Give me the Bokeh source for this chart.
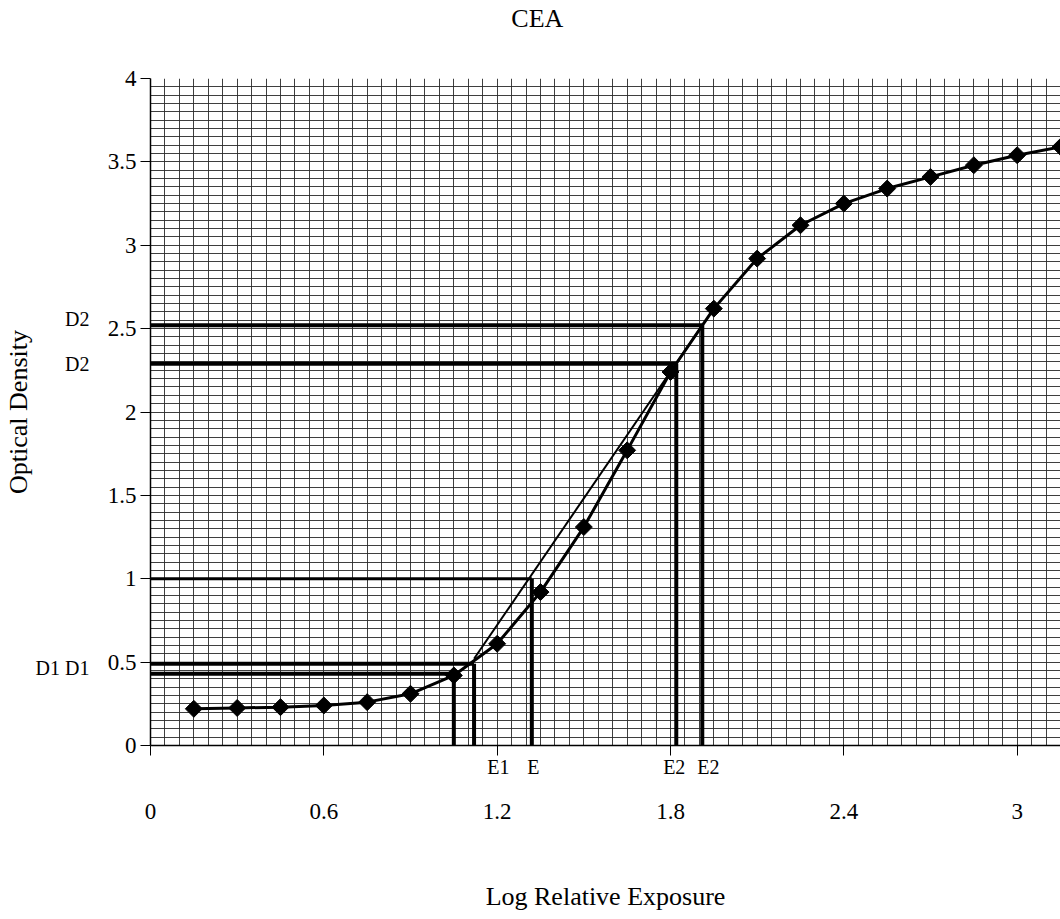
from bokeh.plotting import figure
from bokeh.models import FixedTicker, SingleIntervalTicker, Range1d, LinearAxis, Grid
from bokeh.embed import file_html
from bokeh.resources import INLINE

# ---- data ----
log_exposure = [0.15, 0.30, 0.45, 0.60, 0.75, 0.90, 1.05, 1.20, 1.35, 1.50, 1.65,
                1.80, 1.95, 2.10, 2.25, 2.40, 2.55, 2.70, 2.85, 3.00, 3.15]
density = [0.22, 0.225, 0.23, 0.24, 0.26, 0.31, 0.42, 0.61, 0.92, 1.31, 1.77,
           2.24, 2.62, 2.92, 3.12, 3.25, 3.34, 3.41, 3.48, 3.54, 3.59]

x_ticks = [0, 0.6, 1.2, 1.8, 2.4, 3.0]
x_tick_labels = ["0", "0.6", "1.2", "1.8", "2.4", "3"]
y_ticks = [0, 0.5, 1.0, 1.5, 2.0, 2.5, 3.0, 3.5, 4.0]
y_tick_labels = ["0", "0.5", "1", "1.5", "2", "2.5", "3", "3.5", "4"]

# construction guides: density levels and the exposures where they end
guide_density = [0.43, 0.49, 1.00, 2.29, 2.52]
guide_exposure = [1.05, 1.12, 1.32, 1.82, 1.91]
guide_widths = [4, 4, 3, 4, 4]
tangent_exposure = [1.12, 1.91]
tangent_density = [0.52, 2.52]

e_labels = ["E1", "E", "E2", "E2"]
e_label_x = [1.204, 1.325, 1.813, 1.931]
d_labels = ["D2", "D2", "D1 D1"]
d_label_y = [2.555, 2.285, 0.462]

title_text = "CEA"
title_x = 1.339

FONT = "Liberation Serif"

p = figure(frame_width=910, frame_height=667,
           x_range=Range1d(0, 3.15), y_range=Range1d(0, 4),
           x_axis_location=None, y_axis_location=None,
           output_backend="svg", toolbar_location=None,
           min_border_left=149, min_border_right=0,
           min_border_top=78, min_border_bottom=165)
p.outline_line_color = None
p.background_fill_color = "white"
p.border_fill_color = "white"

# grids every 0.05
for dim in (0, 1):
    p.add_layout(Grid(dimension=dim,
                      ticker=SingleIntervalTicker(interval=0.05, num_minor_ticks=0),
                      grid_line_color="#2a2a2a", grid_line_width=1, grid_line_alpha=0.9))


def style(ax, size):
    ax.major_label_text_font = FONT
    ax.major_label_text_font_size = size
    ax.major_label_text_color = "black"
    ax.axis_label_text_font = FONT
    ax.axis_label_text_font_size = "26px"
    ax.axis_label_text_font_style = "normal"
    ax.axis_label_text_color = "black"


# title as an axis label row above the frame
title_axis = LinearAxis(ticker=FixedTicker(ticks=[title_x]),
                        major_label_overrides={title_x: title_text},
                        axis_line_color=None, major_tick_line_color=None,
                        minor_tick_line_color=None, major_tick_out=0,
                        major_label_standoff=46)
style(title_axis, "26px")
p.add_layout(title_axis, "above")

# x axis: line, ticks at 0.6 steps (as minor ticks) and the E labels
e_axis = LinearAxis(ticker=FixedTicker(ticks=e_label_x, minor_ticks=x_ticks),
                    major_label_overrides=dict(zip(e_label_x, e_labels)),
                    axis_line_color="black", axis_line_width=1.5,
                    major_tick_line_color=None, major_tick_out=0, major_tick_in=0,
                    minor_tick_line_color="black", minor_tick_out=10, minor_tick_in=0,
                    major_label_standoff=0)
style(e_axis, "20px")
p.add_layout(e_axis, "below")

x_axis = LinearAxis(ticker=FixedTicker(ticks=x_ticks),
                    major_label_overrides=dict(zip(x_ticks, x_tick_labels)),
                    axis_line_color=None, major_tick_line_color=None,
                    minor_tick_line_color=None, major_tick_out=0, major_tick_in=0,
                    major_label_standoff=23,
                    axis_label="Log Relative Exposure", axis_label_standoff=60)
style(x_axis, "23px")
p.add_layout(x_axis, "below")

# y axis
y_axis = LinearAxis(ticker=FixedTicker(ticks=y_ticks),
                    major_label_overrides=dict(zip(y_ticks, y_tick_labels)),
                    axis_line_color="black", axis_line_width=1.5,
                    major_tick_line_color="black", major_tick_out=10, major_tick_in=0,
                    minor_tick_line_color=None, major_label_standoff=4)
style(y_axis, "23px")
p.add_layout(y_axis, "left")

d_axis = LinearAxis(ticker=FixedTicker(ticks=d_label_y),
                    major_label_overrides=dict(zip(d_label_y, d_labels)),
                    axis_line_color=None, major_tick_line_color=None,
                    minor_tick_line_color=None, major_tick_out=0, major_tick_in=0,
                    major_label_standoff=15,
                    axis_label="Optical Density", axis_label_standoff=0)
style(d_axis, "20px")
p.add_layout(d_axis, "left")

# horizontal guides from the axis to the curve/tangent
p.segment(x0=[0] * len(guide_density), y0=guide_density,
          x1=guide_exposure, y1=guide_density,
          line_color="black", line_width=guide_widths)
# vertical drops to the exposure axis
p.segment(x0=guide_exposure, y0=guide_density,
          x1=guide_exposure, y1=[0] * len(guide_exposure),
          line_color="black", line_width=4)
# tangent line
p.line(tangent_exposure, tangent_density, line_color="black", line_width=2)

# characteristic curve
p.line(log_exposure, density, line_color="black", line_width=3)
p.scatter(log_exposure, density, marker="square", angle=0.785398, size=12,
          fill_color="black", line_color="black")

open("out.html", "w").write(file_html(p, INLINE))
